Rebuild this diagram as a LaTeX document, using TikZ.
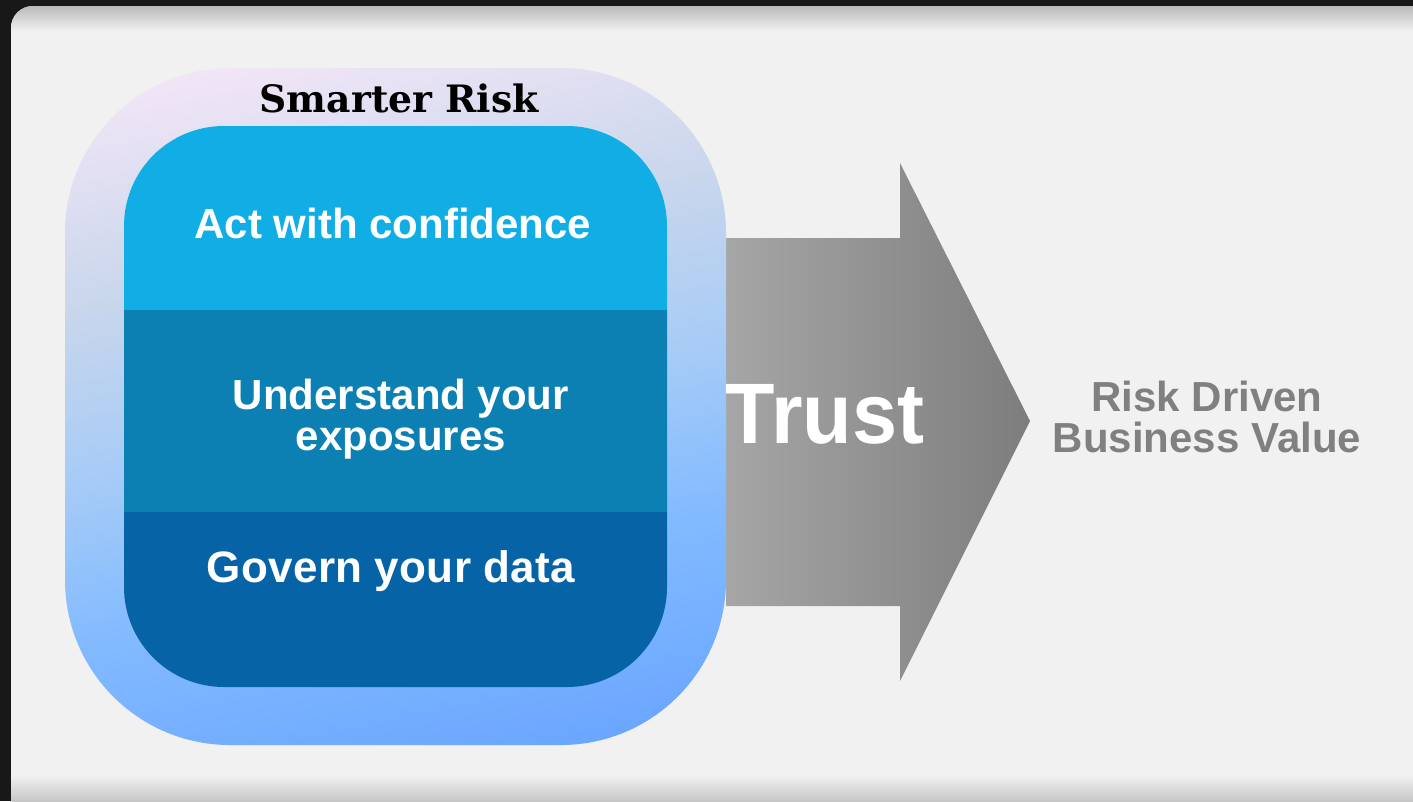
\documentclass[tikz,border=0pt]{standalone}
\usepackage{fontspec}
\setmainfont{Liberation Sans}
\newfontfamily\slabfont{DejaVu Serif}
\newfontfamily\spacedfont[LetterSpace=0.7]{Liberation Sans}
\usetikzlibrary{positioning}

\definecolor{paneldark}{HTML}{181818}
\definecolor{panelgrey}{HTML}{F1F1F1}
\definecolor{bandtop}{HTML}{11AEE6}
\definecolor{bandmid}{HTML}{0C80B3}
\definecolor{bandlow}{HTML}{0563A6}
\definecolor{ringa}{HTML}{66A3FF}
\definecolor{ringb}{HTML}{84BBFF}
\definecolor{ringc}{HTML}{A8CCF6}
\definecolor{ringd}{HTML}{C8D6EC}
\definecolor{ringe}{HTML}{F8E8F8}
\pgfdeclareverticalshading{ringfade}{100bp}{
	color(0bp)=(ringa);
	color(20bp)=(ringa);
	color(38bp)=(ringb);
	color(50bp)=(ringc);
	color(62bp)=(ringd);
	color(80bp)=(ringe);
	color(100bp)=(ringe)}

\tikzset{
	bandtext/.style={font=\bfseries\fontsize{42}{41}\selectfont,text=white,align=center,inner sep=0pt},
	valuetext/.style={font=\bfseries\fontsize{42}{40.5}\selectfont,text=black!50,align=center,inner sep=0pt}
}

\begin{document}
\begin{tikzpicture}[x=1pt,y=-1pt]
		\useasboundingbox (0,0) rectangle (1413,801);
		\fill[paneldark] (0,0) rectangle (1413,801);
		
		% panel with its shaded top and bottom
		\begin{scope}
			\clip[rounded corners=22pt] (11,6) rectangle (1460,840);
			\fill[panelgrey] (11,6) rectangle (1413,801);
			\shade[top color=black!27,bottom color=panelgrey] (11,6) rectangle (1413,31);
			\shade[top color=panelgrey,bottom color=black!22] (11,775) rectangle (1413,801);
		\end{scope}
		
		% arrow
		\shade[left color=black!35,right color=black!51] (726,238) -- (900,238) -- (900,163) -- (1030,421) -- (900,681) -- (900,606) -- (726,606) -- cycle;
		
		% rounded squares
		\shade[shading=ringfade,shading angle=12,rounded corners=165pt] (65,68) rectangle (726,745);
		\begin{scope}
			\clip[rounded corners=100pt] (124,126) rectangle (667,687);
			\fill[bandtop] (120,120) rectangle (671,310);
			\fill[bandmid] (120,310) rectangle (671,512);
			\fill[bandlow] (120,512) rectangle (671,690);
		\end{scope}
		
		\node[font=\slabfont\bfseries\fontsize{37.7}{38}\selectfont,inner sep=0pt] (title) at (399,98) {Smarter Risk};
		\node[bandtext] (act) at (393,223) {Act with confidence};
		\node[bandtext] (understand) at (401,419) {Understand your\\exposures};
		\node[bandtext,font=\spacedfont\bfseries\fontsize{44}{44}\selectfont] (govern) at (391,571) {Govern your data};
		\node[font=\bfseries\fontsize{81}{81}\selectfont,text=white,inner sep=0pt,yscale=1.06] (trust) at (825,414) {Trust};
		\node[valuetext] (value) at (1207,417) {Risk Driven\\Business Value};
		
		\end{tikzpicture}
\end{document}
